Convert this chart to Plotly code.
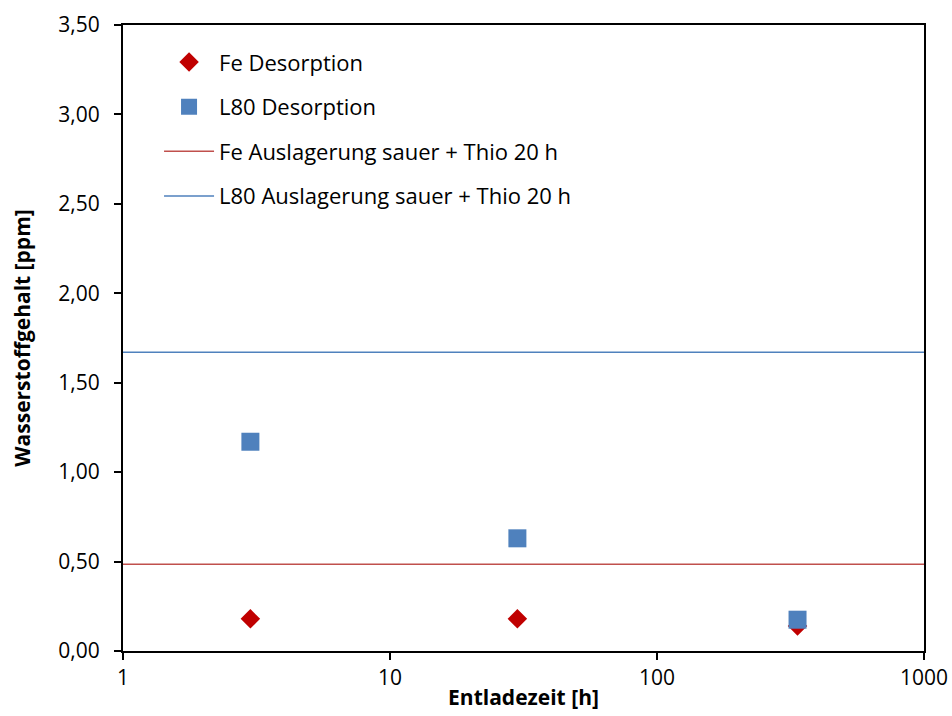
import plotly.graph_objects as go

time_h = [3, 30, 336]
fe_desorption = [0.18, 0.18, 0.14]
l80_desorption = [1.17, 0.63, 0.175]
fe_auslagerung = 0.485
l80_auslagerung = 1.67
x_span = [1, 1000]

font_family = "Open Sans, sans-serif"

fig = go.Figure()
fig.add_trace(go.Scatter(
    x=time_h, y=fe_desorption, mode="markers", name="Fe Desorption",
    marker=dict(symbol="diamond", size=15, color="#C00000"),
    legendgroup="a"))
fig.add_trace(go.Scatter(
    x=time_h, y=l80_desorption, mode="markers", name="L80 Desorption",
    marker=dict(symbol="square", size=18, color="#4F81BD"),
    legendgroup="b"))
fig.add_trace(go.Scatter(
    x=x_span, y=[fe_auslagerung] * 2, mode="lines",
    name="Fe Auslagerung sauer + Thio 20 h",
    line=dict(color="#C0504D", width=1.5), legendgroup="c"))
fig.add_trace(go.Scatter(
    x=x_span, y=[l80_auslagerung] * 2, mode="lines",
    name="L80 Auslagerung sauer + Thio 20 h",
    line=dict(color="#4F81BD", width=1.5), legendgroup="d"))

fig.update_layout(
    width=952, height=716,
    margin=dict(l=123, r=28, t=25, b=65),
    paper_bgcolor="white", plot_bgcolor="white",
    separators=",.",
    font=dict(family=font_family, size=21, color="black"),
    showlegend=True,
    legend=dict(x=0.045, y=0.974, xanchor="left", yanchor="top",
                bgcolor="rgba(0,0,0,0)", tracegroupgap=13,
                font=dict(size=22), itemwidth=50),
    xaxis=dict(type="log", range=[0, 3], tickvals=[1, 10, 100, 1000],
               ticktext=["1", "10", "100", "1000"], automargin=False,
               ticks="outside", ticklen=7, tickwidth=2, tickcolor="black",
               showline=True, linewidth=2, linecolor="black", mirror=True,
               showgrid=False, zeroline=False,
               title=dict(text="<b>Entladezeit [h]</b>", font=dict(size=21), standoff=0),
               tickfont=dict(size=21)),
    yaxis=dict(range=[0, 3.5], dtick=0.5, tickformat=".2f", automargin=False,
               ticks="outside", ticklen=7, tickwidth=2, tickcolor="black",
               showline=True, linewidth=2, linecolor="black", mirror=True,
               showgrid=False, zeroline=False, ticklabelstandoff=10,
               title=dict(text="<b>Wasserstoffgehalt [ppm]</b>", font=dict(size=21), standoff=22),
               tickfont=dict(size=21)),
)

fig.write_html("out.html", config={"displayModeBar": False},
               post_script="document.body.style.margin='0';")
